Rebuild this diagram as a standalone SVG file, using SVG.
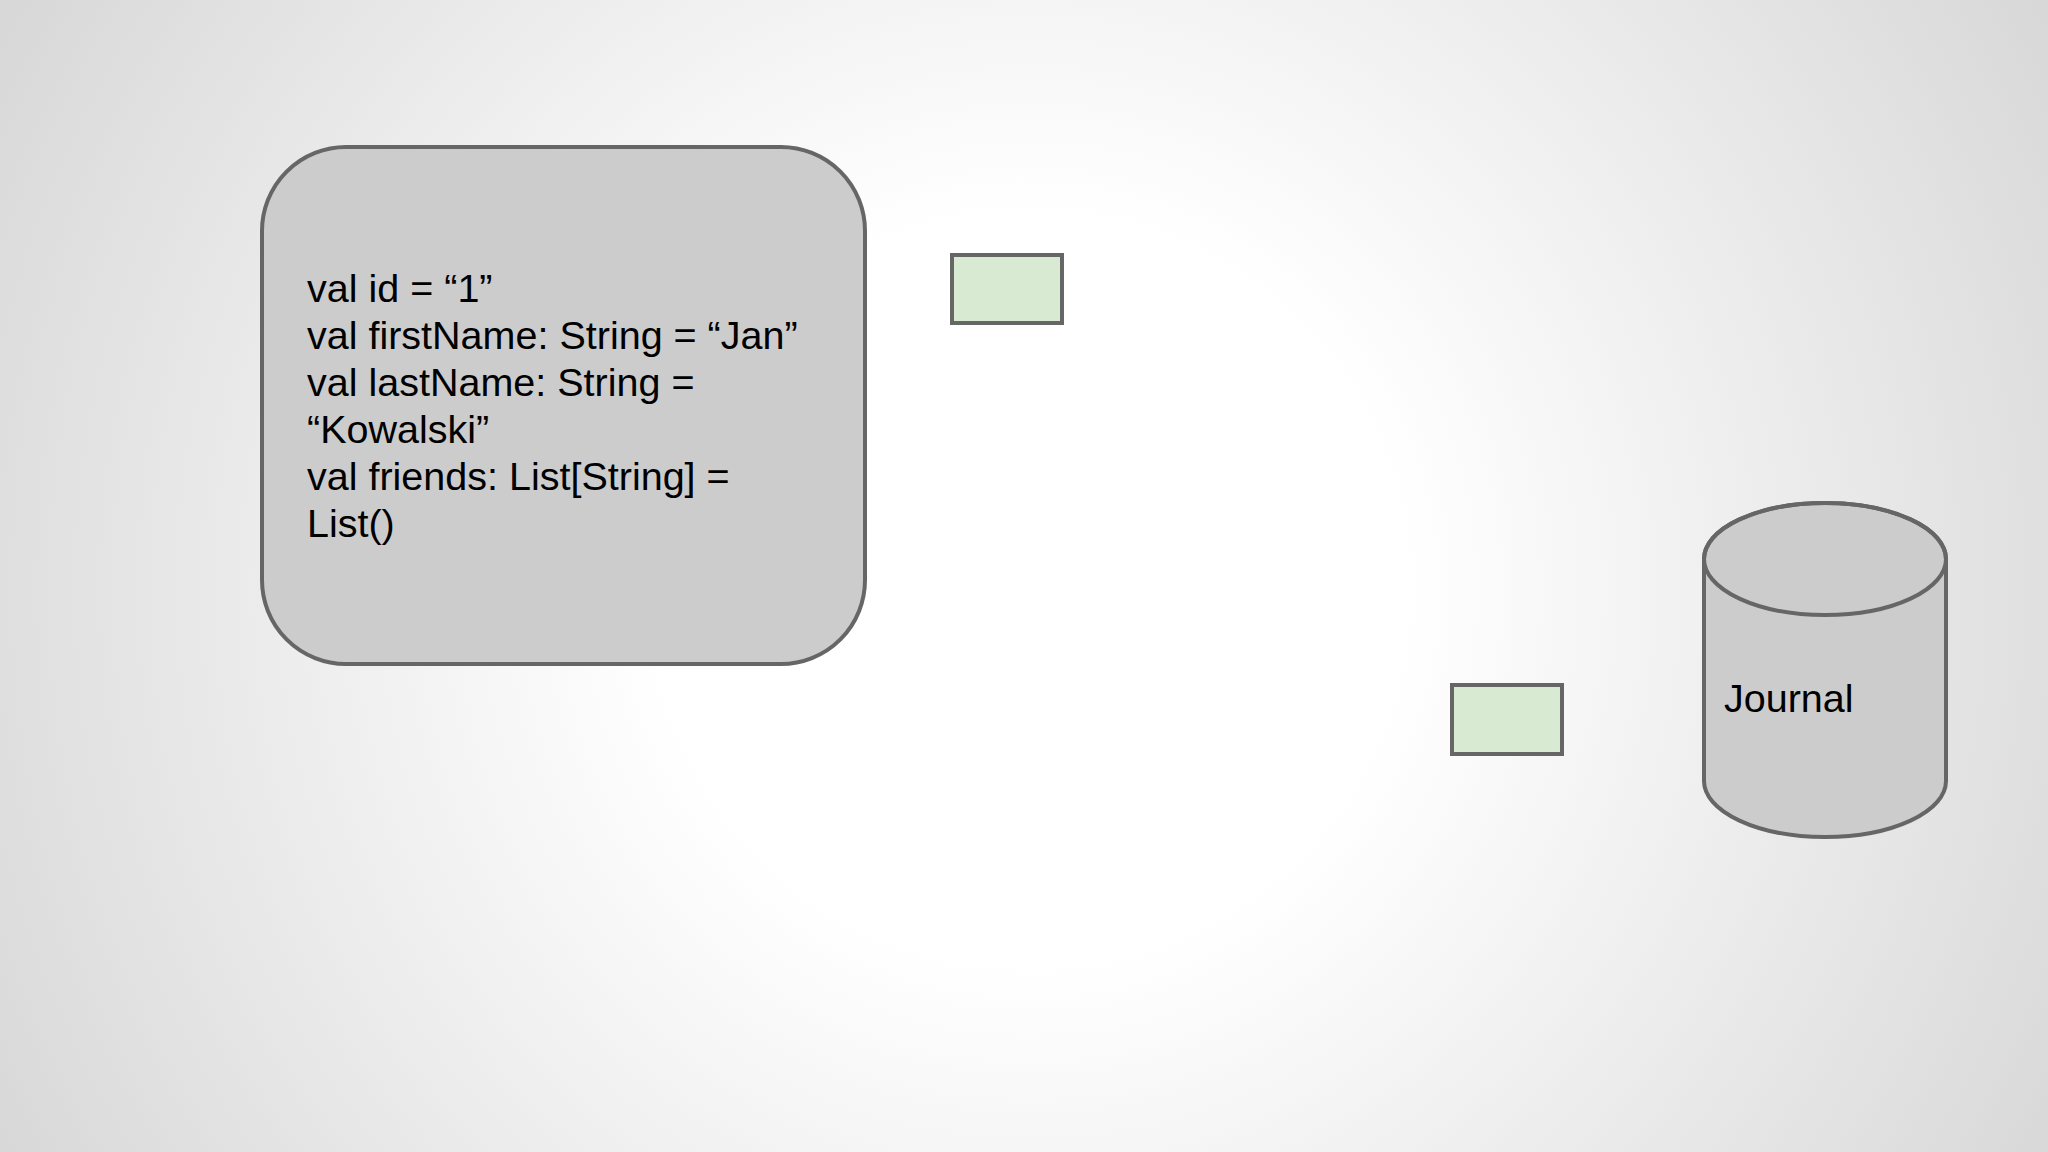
<svg xmlns="http://www.w3.org/2000/svg" width="2048" height="1152" viewBox="0 0 2048 1152">
<defs>
<radialGradient id="bg" cx="1030" cy="590" r="1250" gradientUnits="userSpaceOnUse">
<stop offset="0" stop-color="#ffffff"/>
<stop offset="0.3" stop-color="#ffffff"/>
<stop offset="1" stop-color="#d4d4d4"/>
</radialGradient>
<style>
.grey{fill:#cccccc;stroke:#666666;stroke-width:4}
.green{fill:#d9ead3;stroke:#666666;stroke-width:4}
.t{font-family:"Liberation Sans",Arial,sans-serif;font-size:39.5px;fill:#000000}
</style>
</defs>
<rect width="2048" height="1152" fill="url(#bg)"/>
<g id="connectors"></g>
<g id="state-node">
<rect class="grey" x="262" y="147" width="603" height="517" rx="84" ry="84"/>
<text class="t" x="307">
<tspan x="307" y="302">val id = “1”</tspan>
<tspan x="307" y="349">val firstName: String = “Jan”</tspan>
<tspan x="307" y="396">val lastName: String =</tspan>
<tspan x="307" y="443">“Kowalski”</tspan>
<tspan x="307" y="490">val friends: List[String] =</tspan>
<tspan x="307" y="537">List()</tspan>
</text>
</g>
<g id="event-1">
<rect class="green" x="952" y="255" width="110" height="68"/>
</g>
<g id="event-2">
<rect class="green" x="1452" y="685" width="110" height="69"/>
</g>
<g id="journal">
<path class="grey" d="M1704,559 A121,56 0 0 1 1946,559 L1946,781 A121,56 0 0 1 1704,781 Z"/>
<ellipse cx="1825" cy="559" rx="121" ry="56" fill="none" stroke="#666666" stroke-width="4"/>
<text class="t" x="1724" y="712">Journal</text>
</g>
</svg>
